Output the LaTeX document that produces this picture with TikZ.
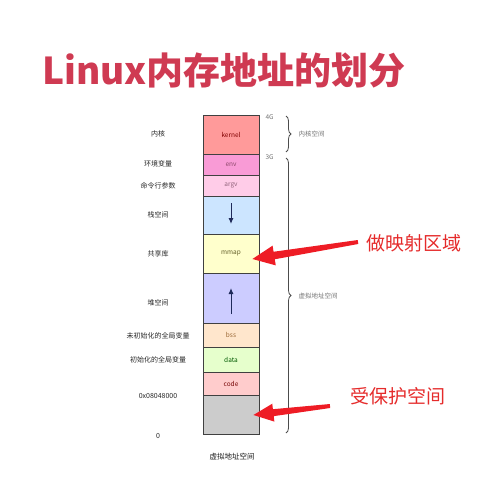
\documentclass[tikz,border=0pt]{standalone}
\usepackage{fontspec}
\setmainfont{Noto Sans CJK SC}
\usetikzlibrary{arrows.meta,decorations.pathreplacing,calc}
\definecolor{titlered}{HTML}{CF3A52}
\definecolor{annred}{HTML}{E52B2B}
\definecolor{arrred}{HTML}{EE1C25}
\definecolor{cKernel}{HTML}{FF9A9A}
\definecolor{cEnv}{HTML}{F99BD6}
\definecolor{cArgv}{HTML}{FFCCE8}
\definecolor{cStack}{HTML}{CCE5FF}
\definecolor{cMmap}{HTML}{FFFFCC}
\definecolor{cHeap}{HTML}{CCCCFF}
\definecolor{cBss}{HTML}{FFE6CC}
\definecolor{cData}{HTML}{E6FFCC}
\definecolor{cCode}{HTML}{FFCCCC}
\definecolor{cGray}{HTML}{CCCCCC}
\definecolor{navy}{HTML}{1F2A5A}
\tikzset{
  seg/.style={draw=black!75, line width=0.9pt, minimum width=56pt, inner sep=0pt, font=\fontsize{6.5}{7}\selectfont},
  leftlab/.style={font=\fontsize{7}{8}\selectfont, text=black!85},
  sidelab/.style={font=\fontsize{6.5}{7}\selectfont, text=black!55, anchor=west},
  bracestyle/.style={decorate, decoration={brace, amplitude=5pt}, draw=black!70, line width=0.8pt},
  ann/.style={font=\fontsize{19}{21}\selectfont, text=annred},
  smallarrow/.style={draw=navy, line width=1pt, -{Latex[length=6pt,width=5pt]}}
}
\begin{document}
\begin{tikzpicture}[x=1pt,y=-1pt]
\useasboundingbox (0,0) rectangle (500,482);
\node[font=\bfseries\fontsize{37}{40}\selectfont, text=titlered] (title) at (224,70) {Linux内存地址的划分};

\node[seg, fill=cKernel, minimum height=39pt, text=red!50!black] (kernel) at (231,134.5) {kernel};
\node[seg, fill=cEnv, minimum height=21pt, text=magenta!50!black] (env) at (231,164.5) {env};
\node[seg, fill=cArgv, minimum height=21pt, text=magenta!40!black!80] (argv) at (231,185.5) {argv};
\node[seg, fill=cStack, minimum height=38pt] (stack) at (231,215) {};
\node[seg, fill=cMmap, minimum height=39pt, text=olive!60!black] (mmap) at (231,253.5) {mmap};
\node[seg, fill=cHeap, minimum height=50pt] (heap) at (231,298) {};
\node[seg, fill=cBss, minimum height=24pt, text=brown!80!black] (bss) at (231,335) {bss};
\node[seg, fill=cData, minimum height=25pt, text=green!35!black] (data) at (231,359.5) {data};
\node[seg, fill=cCode, minimum height=23pt, text=red!45!black] (code) at (231,383.5) {code};
\node[seg, fill=cGray, minimum height=39pt] (prot) at (231,414.5) {};

\draw[smallarrow] ($(stack.center)+(0,-12)$) -- ($(stack.center)+(0,9)$);
\draw[smallarrow] ($(heap.center)+(0,16)$) -- ($(heap.center)+(0,-10)$);

\node[leftlab] (l1) at (158,134) {内核};
\node[leftlab] (l2) at (158,164) {环境变量};
\node[leftlab] (l3) at (158,186) {命令行参数};
\node[leftlab] (l4) at (158,215) {栈空间};
\node[leftlab] (l5) at (158,254) {共享库};
\node[leftlab] (l6) at (158,303) {堆空间};
\node[leftlab] (l7) at (158,336) {未初始化的全局变量};
\node[leftlab] (l8) at (158,360) {初始化的全局变量};
\node[leftlab] (l9) at (158,396) {0x08048000};
\node[leftlab] (l10) at (158,436) {0};
\node[font=\fontsize{7.5}{8}\selectfont, text=black!90] (bottom) at (232,457) {虚拟地址空间};

\node[sidelab] (g4) at (262,117) {4G};
\node[sidelab] (g3) at (262,157) {3G};
\coordinate (b1s) at (286,116);
\coordinate (b1e) at (286,152);
\coordinate (b2s) at (286,158);
\coordinate (b2e) at (286,433);
\draw[bracestyle] (b1s) -- (b1e);
\draw[bracestyle] (b2s) -- (b2e);
\node[sidelab] (ks) at (295,134) {内核空间};
\node[sidelab] (vs) at (295,296) {虚拟地址空间};

% tapered red arrows
\coordinate (t1) at (358,242);
\coordinate (p1) at ($(mmap.east)+(-7,5.5)$);
\coordinate (h1) at ($(p1)!22pt!(t1)$);
\fill[arrred] ($(t1)!2pt!90:(p1)$) -- ($(h1)!3.8pt!90:(p1)$) -- ($(h1)!10pt!90:(p1)$) -- (p1)
  -- ($(h1)!10pt!-90:(p1)$) -- ($(h1)!3.8pt!-90:(p1)$) -- ($(t1)!2pt!-90:(p1)$) -- cycle;
\coordinate (t2) at (330,406);
\coordinate (p2) at ($(prot.east)+(-6,0.5)$);
\coordinate (h2) at ($(p2)!20pt!(t2)$);
\fill[arrred] ($(t2)!2pt!90:(p2)$) -- ($(h2)!3.5pt!90:(p2)$) -- ($(h2)!9pt!90:(p2)$) -- (p2)
  -- ($(h2)!9pt!-90:(p2)$) -- ($(h2)!3.5pt!-90:(p2)$) -- ($(t2)!2pt!-90:(p2)$) -- cycle;
\node[ann] (a1) at (414,243) {做映射区域};
\node[ann] (a2) at (398,396) {受保护空间};
\end{tikzpicture}
\end{document}
